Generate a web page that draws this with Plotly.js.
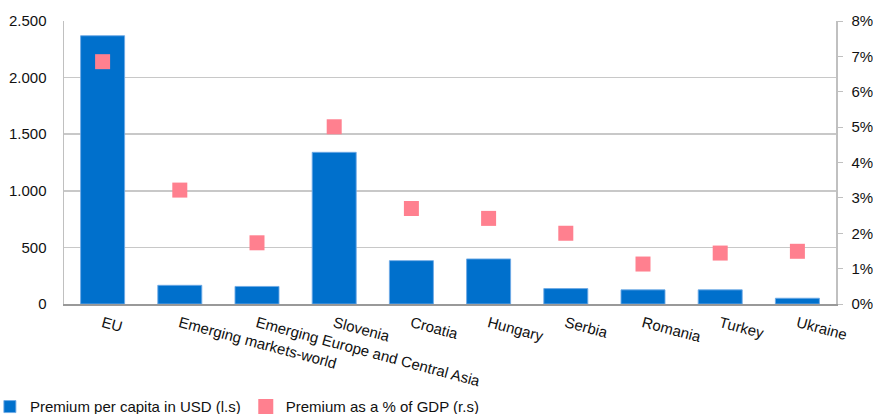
<!DOCTYPE html>
<html>
<head>
<meta charset="utf-8">
<script src="https://cdn.plot.ly/plotly-3.0.1.min.js"></script>
<style>
  html, body { margin: 0; padding: 0; background: #fff; }
  #chart { width: 873px; height: 414px; }
</style>
</head>
<body>
<div id="chart"></div>
<script>
// Insurance premiums by region / country
const categories = ["EU", "Emerging markets-world", "Emerging Europe and Central Asia",
  "Slovenia", "Croatia", "Hungary", "Serbia", "Romania", "Turkey", "Ukraine"];
// Premium per capita in USD (left scale)
const premiumPerCapita = [2370, 165, 155, 1340, 383, 398, 136, 125, 125, 51];
// Premium as a share of GDP (right scale)
const premiumPctGdp = [0.0685, 0.0322, 0.0173, 0.0501, 0.0270, 0.0242, 0.0200, 0.0113, 0.0144, 0.0149];
const seriesNames = ["Premium per capita in USD (l.s)", "Premium as a % of GDP (r.s)"];

const font = "Liberation Sans, Arial, sans-serif";

const traces = [
  {
    type: "bar",
    name: seriesNames[0],
    x: categories,
    y: premiumPerCapita,
    yaxis: "y",
    marker: { color: "#0070CC", line: { color: "rgba(110,170,230,0.9)", width: 1 } },
    hoverinfo: "skip"
  },
  {
    type: "scatter",
    mode: "markers",
    name: seriesNames[1],
    x: categories,
    y: premiumPctGdp,
    yaxis: "y2",
    marker: { symbol: "square", size: 15, color: "#FF808F" },
    hoverinfo: "skip"
  }
];

const layout = {
  width: 873,
  height: 414,
  margin: { l: 64, r: 37, t: 20.5, b: 109.5, autoexpand: false },
  paper_bgcolor: "#fff",
  plot_bgcolor: "#fff",
  separators: ",.",
  font: { family: font, size: 15, color: "#111" },
  showlegend: true,
  bargap: 0.43,
  legend: {
    orientation: "h",
    x: -0.096, xanchor: "left",
    y: -0.305, yanchor: "top",
    font: { family: font, size: 15, color: "#111" },
    itemwidth: 30,
    tracegroupgap: 0,
    bgcolor: "rgba(0,0,0,0)"
  },
  xaxis: {
    type: "category",
    range: [-0.5, categories.length - 0.5],
    tickangle: 15,
    showgrid: false,
    showline: true,
    linecolor: "#999",
    linewidth: 2,
    ticks: "",
    ticklabelstandoff: 3,
    tickfont: { family: font, size: 15, color: "#111" },
    automargin: false
  },
  yaxis: {
    range: [0, 2500],
    dtick: 500,
    tickformat: ",d",
    showgrid: true,
    gridcolor: "#c8c8c8",
    gridwidth: 1.5,
    showline: true,
    linecolor: "#c0c0c0",
    linewidth: 1.5,
    ticks: "",
    ticklabelstandoff: 13,
    zeroline: false,
    tickfont: { family: font, size: 15, color: "#111" },
    automargin: false
  },
  yaxis2: {
    overlaying: "y",
    side: "right",
    range: [0, 0.08],
    dtick: 0.01,
    tickformat: ".0%",
    showgrid: false,
    zeroline: false,
    showline: true,
    linecolor: "#c0c0c0",
    linewidth: 1.5,
    ticks: "outside",
    ticklen: 5,
    tickcolor: "#c0c0c0",
    tickwidth: 1,
    ticklabelstandoff: 6,
    tickfont: { family: font, size: 15, color: "#111" },
    automargin: false
  }
};

Plotly.newPlot("chart", traces, layout, { staticPlot: true, displayModeBar: false });
</script>
</body>
</html>
